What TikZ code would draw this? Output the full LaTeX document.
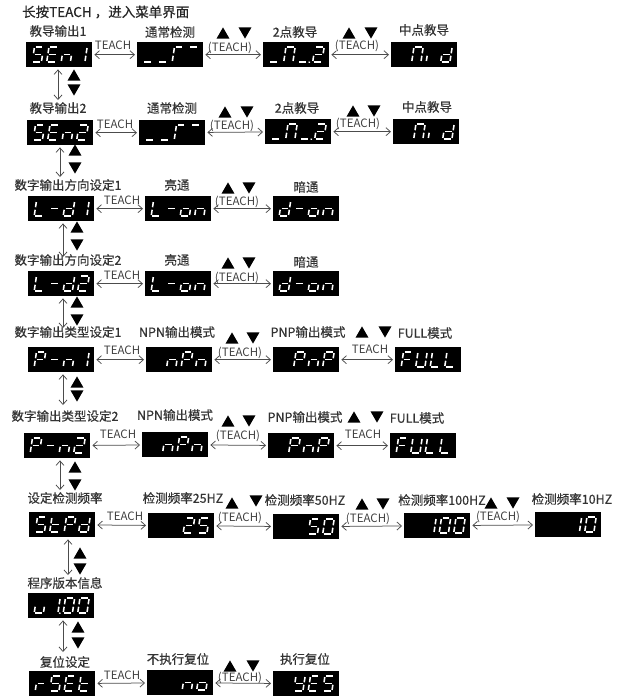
\documentclass[tikz,border=0pt]{standalone}
\usepackage{fontspec}
\setmainfont{Noto Sans CJK SC}
\newfontfamily\lblfont{Noto Sans CJK SC}[FakeBold=0.45]
\usetikzlibrary{shapes.geometric,arrows.meta}
% seven-segment paths (cell 9.2 x 15.5, y downward)
\expandafter\def\csname lcdsega\endcsname{(1.3,0)--(7.9,0)}
\expandafter\def\csname lcdsegb\endcsname{(9.2,1.3)--(9.2,6.5)}
\expandafter\def\csname lcdsegc\endcsname{(9.2,9)--(9.2,14.2)}
\expandafter\def\csname lcdsegd\endcsname{(1.3,15.5)--(7.9,15.5)}
\expandafter\def\csname lcdsege\endcsname{(0,9)--(0,14.2)}
\expandafter\def\csname lcdsegf\endcsname{(0,1.3)--(0,6.5)}
\expandafter\def\csname lcdsegg\endcsname{(1.3,7.75)--(7.9,7.75)}
\expandafter\def\csname lcdsegp\endcsname{(11.1,14.8)--(11.1,16)}
\expandafter\def\csname lcdsegx\endcsname{}
\expandafter\def\csname lcdseg\endcsname{}
\newcommand\lcddigit[3]{%
  \begin{scope}[shift={(#1,#2)},xslant=0.15]
    \foreach \s in {#3}{%
      \edef\lcdtmp{\noexpand\draw[seg] \csname lcdseg\s\endcsname;}\lcdtmp}
  \end{scope}}
\newcommand\lcd[7]{%
  \node[lcdbox] (#1) at (#2,#3) {};
  \lcddigit{#2+8.5}{#3+4.75}{#4}%
  \lcddigit{#2+23}{#3+4.75}{#5}%
  \lcddigit{#2+37.5}{#3+4.75}{#6}%
  \lcddigit{#2+52}{#3+4.75}{#7}}
\begin{document}
\begin{tikzpicture}[x=1pt,y=-1pt,
  lcdbox/.style={fill=black, minimum width=66pt, minimum height=25pt, anchor=north west, inner sep=0pt},
  seg/.style={draw=white, line width=1.55pt, line cap=butt},
  lbl/.style={font=\lblfont\fontsize{12.5}{14}\selectfont, text=black!80, inner sep=0pt},
  ttl/.style={font=\lblfont\fontsize{13.5}{15}\selectfont, text=black!85, inner sep=0pt, anchor=west},
  tch/.style={font=\fontsize{11.5}{13}\selectfont, text=black!75, inner sep=0pt},
  up/.style={regular polygon, regular polygon sides=3, fill=black, minimum size=15pt, inner sep=0pt, yshift=-1.9pt},
  dn/.style={regular polygon, regular polygon sides=3, shape border rotate=180, fill=black, minimum size=15pt, inner sep=0pt, yshift=1.9pt},
  conn/.style={draw=black!70, line width=0.75pt, >={Straight Barb[length=4.5pt,width=8pt]}, <->, shorten <=2pt, shorten >=2pt},
  vconn/.style={conn, shorten >=0pt}
]
\useasboundingbox (0,0) rectangle (625,699);
\node[ttl] (title) at (22,12) {长按TEACH ，进入菜单界面};

% ---------- Row 1
\node[lbl] (l11) at (58,31) {教导输出1};
\node[lbl] (l12) at (170,32) {通常检测};
\node[lbl] (l13) at (295,32) {2点教导};
\node[lbl] (l14) at (424,30) {中点教导};
\lcd{b11}{26}{42}{a,f,g,c,d}{a,f,g,e,d}{c,e,g}{b,c}
\lcd{b12}{137}{42}{d}{d}{a,e,f}{a}
\lcd{b13}{263}{42}{d}{a,b,c,e,f}{d,p}{a,b,g,e,d}
\lcd{b14}{391}{42}{x}{a,b,c,e,f}{e}{b,c,d,e,g}
\node[tch] (t11) at (113,45) {TEACH};
\node[up] (u12) at (223,33) {}; \node[dn] (d12) at (245,33) {};
\node[tch] (t12) at (230,48) {(TEACH)};
\node[up] (u13) at (349,33) {}; \node[dn] (d13) at (371,33) {};
\node[tch] (t13) at (357,46) {(TEACH)};
\draw[conn] (b11) -- (b12);
\draw[conn] (b12) -- (b13);
\draw[conn] (b13) -- (b14);

% ---------- Row 2
\node[lbl] (l21) at (58,108) {教导输出2};
\node[lbl] (l22) at (172,108) {通常检测};
\node[lbl] (l23) at (297,108) {2点教导};
\node[lbl] (l24) at (427,107) {中点教导};
\lcd{b21}{27}{120}{a,f,g,c,d}{a,f,g,e,d}{c,e,g}{a,b,g,e,d}
\lcd{b22}{139}{120}{d}{d}{a,e,f}{a}
\lcd{b23}{265}{119}{d}{a,b,c,e,f}{d,p}{a,b,g,e,d}
\lcd{b24}{393}{119}{x}{a,b,c,e,f}{e}{b,c,d,e,g}
\node[tch] (t21) at (115,124) {TEACH};
\node[up] (u22) at (225,112) {}; \node[dn] (d22) at (247,112) {};
\node[tch] (t22) at (232,126) {(TEACH)};
\node[up] (u23) at (353,111) {}; \node[dn] (d23) at (374,111) {};
\node[tch] (t23) at (358,124) {(TEACH)};
\draw[conn] (b21) -- (b22);
\draw[conn] (b22) -- (b23);
\draw[conn] (b23) -- (b24);
% vertical 1
\coordinate (v1) at (58,100);
\draw[vconn] (b11.south -| v1) -- (v1);
\node[up] (vu1) at (74,75) {}; \node[dn] (vd1) at (74,90) {};

% ---------- Row 3
\node[lbl] (l31) at (68,185) {数字输出方向设定1};
\node[lbl] (l32) at (177,185) {亮通};
\node[lbl] (l33) at (306,187) {暗通};
\lcd{b31}{28}{196}{d,e,f}{g}{b,c,d,e,g}{b,c}
\lcd{b32}{145}{196}{d,e,f}{g}{c,d,e,g}{c,e,g}
\lcd{b33}{273}{196}{b,c,d,e,g}{g}{c,d,e,g}{c,e,g}
\node[tch] (t31) at (122,200) {TEACH};
\node[up] (u32) at (228,188) {}; \node[dn] (d32) at (249,188) {};
\node[tch] (t32) at (237,202) {(TEACH)};
\draw[conn] (b31) -- (b32);
\draw[conn] (b32) -- (b33);
\coordinate (v2) at (60,177);
\draw[vconn] (b21.south -| v2) -- (v2);
\node[up] (vu2) at (75,150) {}; \node[dn] (vd2) at (75,168) {};

% ---------- Row 4
\node[lbl] (l41) at (68,260) {数字输出方向设定2};
\node[lbl] (l42) at (177,260) {亮通};
\node[lbl] (l43) at (306,262) {暗通};
\lcd{b41}{28}{271}{d,e,f}{g}{b,c,d,e,g}{a,b,g,e,d}
\lcd{b42}{145}{271}{d,e,f}{g}{c,d,e,g}{c,e,g}
\lcd{b43}{273}{271}{b,c,d,e,g}{g}{c,d,e,g}{c,e,g}
\node[tch] (t41) at (122,275) {TEACH};
\node[up] (u42) at (228,263) {}; \node[dn] (d42) at (249,263) {};
\node[tch] (t42) at (237,278) {(TEACH)};
\draw[conn] (b41) -- (b42);
\draw[conn] (b42) -- (b43);
\coordinate (v3) at (63,257);
\draw[vconn] (b31.south -| v3) -- (v3);
\node[up] (vu3) at (77,227) {}; \node[dn] (vd3) at (77,245) {};

% ---------- Row 5
\node[lbl] (l51) at (68,332) {数字输出类型设定1};
\node[lbl] (l52) at (177,332) {NPN输出模式};
\node[lbl] (l53) at (308,332) {PNP输出模式};
\node[lbl] (l54) at (425,333) {FULL模式};
\lcd{b51}{28}{347}{a,b,e,f,g}{g}{c,e,g}{b,c}
\lcd{b52}{146}{347}{x}{c,e,g}{a,b,e,f,g}{c,e,g}
\lcd{b53}{273}{347}{x}{a,b,e,f,g}{c,e,g}{a,b,e,f,g}
\lcd{b54}{395}{347}{a,e,f,g}{b,c,d,e,f}{d,e,f}{d,e,f}
\node[tch] (t51) at (122,350) {TEACH};
\node[up] (u52) at (232,338) {}; \node[dn] (d52) at (253,338) {};
\node[tch] (t52) at (240,353) {(TEACH)};
\node[up] (u53) at (362,332) {}; \node[dn] (d53) at (385,332) {};
\node[tch] (t53) at (370,349) {TEACH};
\draw[conn] (b51) -- (b52);
\draw[conn] (b52) -- (b53);
\draw[conn] (b53) -- (b54);
\coordinate (v4) at (63,328);
\draw[vconn] (b41.south -| v4) -- (v4);
\node[up] (vu4) at (77,302) {}; \node[dn] (vd4) at (77,320) {};

% ---------- Row 6
\node[lbl] (l61) at (65,416) {数字输出类型设定2};
\node[lbl] (l62) at (175,415) {NPN输出模式};
\node[lbl] (l63) at (305,417) {PNP输出模式};
\node[lbl] (l64) at (417,418) {FULL模式};
\lcd{b61}{24}{433}{a,b,e,f,g}{g}{c,e,g}{a,b,g,e,d}
\lcd{b62}{142}{432}{x}{c,e,g}{a,b,e,f,g}{c,e,g}
\lcd{b63}{268}{433}{x}{a,b,e,f,g}{c,e,g}{a,b,e,f,g}
\lcd{b64}{390}{433}{a,e,f,g}{b,c,d,e,f}{d,e,f}{d,e,f}
\node[tch] (t61) at (118,434) {TEACH};
\node[up] (u62) at (228,421) {}; \node[dn] (d62) at (249,421) {};
\node[tch] (t62) at (238,436) {(TEACH)};
\node[up] (u63) at (354,417) {}; \node[dn] (d63) at (377,417) {};
\node[tch] (t63) at (363,434) {TEACH};
\draw[conn] (b61) -- (b62);
\draw[conn] (b62) -- (b63);
\draw[conn] (b63) -- (b64);
\coordinate (v5) at (63,405);
\draw[vconn] (b51.south -| v5) -- (v5);
\node[up] (vu5) at (77,382) {}; \node[dn] (vd5) at (77,396) {};

% ---------- Row 7
\node[lbl] (l71) at (65,498) {设定检测频率};
\node[lbl] (l72) at (183,498) {检测频率25HZ};
\node[lbl] (l73) at (305,500) {检测频率50HZ};
\node[lbl] (l74) at (442,500) {检测频率100HZ};
\node[lbl] (l75) at (572,499) {检测频率10HZ};
\lcd{b71}{29}{512}{a,f,g,c,d}{d,e,f,g}{a,b,e,f,g}{b,c,d,e,g}
\lcd{b72}{148}{513}{x}{x}{a,b,g,e,d}{a,f,g,c,d}
\lcd{b73}{273}{514}{x}{x}{a,f,g,c,d}{a,b,c,d,e,f}
\lcd{b74}{404}{513}{x}{b,c}{a,b,c,d,e,f}{a,b,c,d,e,f}
\lcd{b75}{535}{512}{x}{x}{b,c}{a,b,c,d,e,f}
\node[tch] (t71) at (125,516) {TEACH};
\node[up] (u72) at (232,503) {}; \node[dn] (d72) at (256,501) {};
\node[tch] (t72) at (240,518) {(TEACH)};
\node[up] (u73) at (362,504) {}; \node[dn] (d73) at (383,504) {};
\node[tch] (t73) at (368,519) {(TEACH)};
\node[up] (u74) at (491,503) {}; \node[dn] (d74) at (513,503) {};
\node[tch] (t74) at (498,517) {(TEACH)};
\draw[conn] (b71) -- (b72);
\draw[conn] (b72) -- (b73);
\draw[conn] (b73) -- (b74);
\draw[conn] (b74) -- (b75);
\coordinate (v6) at (60,490);
\draw[vconn] (b61.south -| v6) -- (v6);
\node[up] (vu6) at (75,467) {}; \node[dn] (vd6) at (75,485) {};

% ---------- Row 8
\node[lbl] (l81) at (65,583) {程序版本信息};
\lcd{b81}{28}{593}{c,d,e}{b,c,p}{a,b,c,d,e,f}{a,b,c,d,e,f}
\coordinate (v7) at (68,575);
\draw[vconn] (b71.south -| v7) -- (v7);
\node[up] (vu7) at (80,553) {}; \node[dn] (vd7) at (80,569) {};

% ---------- Row 9
\node[lbl] (l91) at (65,662) {复位设定};
\node[lbl] (l92) at (178,659) {不执行复位};
\node[lbl] (l93) at (305,659) {执行复位};
\lcd{b91}{29}{671}{e,g}{a,f,g,c,d}{a,f,g,e,d}{d,e,f,g}
\lcd{b92}{147}{670}{x}{x}{c,e,g}{c,d,e,g}
\lcd{b93}{273}{671}{x}{b,c,d,f,g}{a,f,g,e,d}{a,f,g,c,d}
\node[tch] (t91) at (122,675) {TEACH};
\node[up] (u92) at (230,666) {}; \node[dn] (d92) at (253,666) {};
\node[tch] (t92) at (240,678) {(TEACH)};
\draw[conn] (b91) -- (b92);
\draw[conn] (b92) -- (b93);
\coordinate (v8) at (63,652);
\draw[vconn] (b81.south -| v8) -- (v8);
\node[up] (vu8) at (78,627) {}; \node[dn] (vd8) at (78,643) {};
\end{tikzpicture}
\end{document}
